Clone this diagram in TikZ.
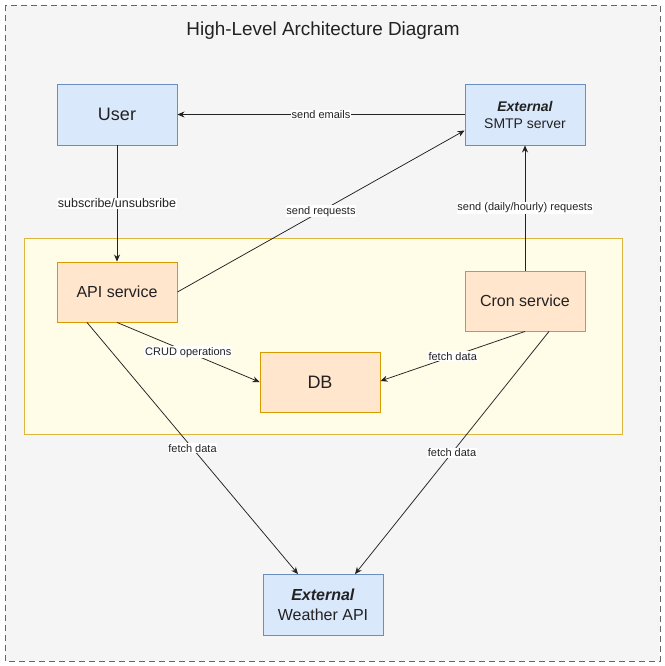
\documentclass[tikz,border=0pt]{standalone}
\usepackage{fontspec}
\setmainfont{Liberation Sans}
\usepackage{xcolor}
\usepackage{tikz}
\usetikzlibrary{arrows.meta}
\definecolor{page}{HTML}{F5F5F5}
\definecolor{pageline}{HTML}{666666}
\definecolor{zonefill}{HTML}{FFFCE8}
\definecolor{zoneline}{HTML}{DDB640}
\definecolor{orfill}{HTML}{FFE6CC}
\definecolor{orline}{HTML}{D79B00}
\definecolor{blfill}{HTML}{DAE8FC}
\definecolor{blline}{HTML}{6C8EBF}
\definecolor{ink}{HTML}{222222}
\tikzset{
  extbox/.style={draw=blline, fill=blfill, line width=0.9pt, minimum width=120pt, minimum height=61pt, inner sep=0pt, align=center, text=ink},
  svcbox/.style={draw=orline, fill=orfill, line width=0.9pt, minimum width=120pt, minimum height=60pt, inner sep=0pt, align=center, text=ink},
  flow/.style={draw=ink, line width=0.75pt, -{Stealth[length=7pt,width=6pt]}},
  lab/.style={fill=white, inner sep=0.8pt, text=ink, font=\fontsize{11}{13}\selectfont},
}

\begin{document}
\begin{tikzpicture}[x=1pt, y=-1pt]
  \useasboundingbox (0,0) rectangle (664,666);
  % frame and service zone
  \draw[draw=pageline, fill=page, line width=0.9pt, dash pattern=on 6pt off 4pt] (5,5) rectangle (660,661);
  \draw[draw=zoneline, fill=zonefill, line width=0.9pt] (24,238) rectangle (622,434);
  \node[text=ink, font=\fontsize{18.9}{22}\selectfont] (title) at (323,31) {High-Level Architecture Diagram};

  \node[extbox, font=\fontsize{18}{22}\selectfont] (user) at (117,114.5) {User};
  \node[extbox, font=\fontsize{14}{17}\selectfont] (smtp) at (525,114.5) {\textbf{\textit{External}}\\SMTP server};
  \node[svcbox, font=\fontsize{16}{19}\selectfont] (api) at (117,292) {API service};
  \node[svcbox, font=\fontsize{16}{19}\selectfont] (cron) at (525,301) {Cron service};
  \node[svcbox, font=\fontsize{18}{22}\selectfont] (db) at (320,382) {DB};
  \node[extbox, font=\fontsize{16}{20}\selectfont] (weather) at (323,605) {\textbf{\textit{External}}\\Weather API};

  \draw[flow] (smtp.west) -- (user.east) node[lab, midway] {send emails};
  \draw[flow] (user.south) -- (api.north) node[lab, midway, font=\fontsize{12.5}{15}\selectfont] {subscribe/unsubsribe};
  \draw[flow] (api.east) -- ([yshift=-16pt]smtp.west) node[lab, midway] {send requests};
  \draw[flow] (cron.north) -- (smtp.south) node[lab, midway] {send (daily/hourly) requests};
  \draw[flow] (api.south) -- (db.west) node[lab, midway] {CRUD operations};
  \draw[flow] (cron.south) -- ([yshift=1pt]db.east) node[lab, midway] {fetch data};
  \draw[flow] ([xshift=-30pt]api.south) -- ([xshift=-25pt]weather.north) node[lab, midway] {fetch data};
  \draw[flow] ([xshift=24pt]cron.south) -- ([xshift=32pt]weather.north) node[lab, midway] {fetch data};
\end{tikzpicture}
\end{document}
